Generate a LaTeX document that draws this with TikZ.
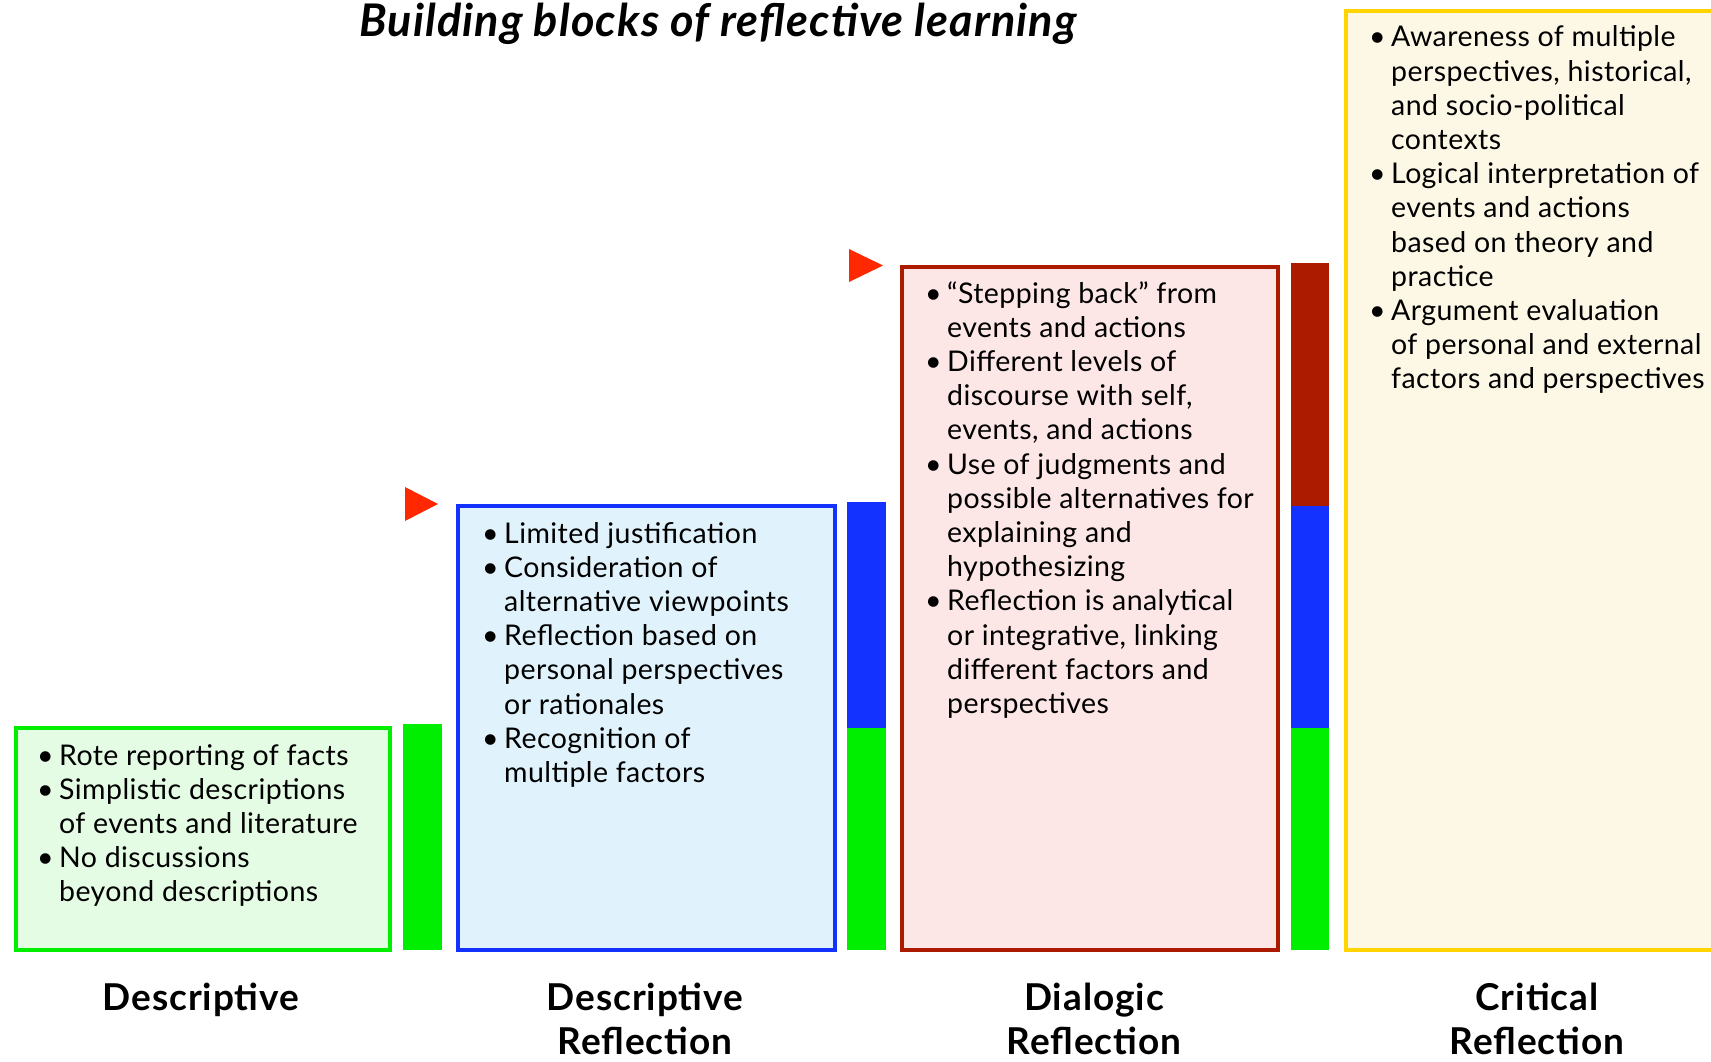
\documentclass[tikz,border=0pt]{standalone}
\usepackage{fontspec}
\setmainfont{Lato}
\newfontfamily\bodyfont{Lato}[LetterSpace=1.5]
\newfontfamily\labfont{Lato}[LetterSpace=2.5]
\newfontfamily\titlefont{Lato}[LetterSpace=2.5]
\definecolor{gborder}{RGB}{0,238,0}
\definecolor{gfill}{RGB}{228,251,228}
\definecolor{bborder}{RGB}{20,50,255}
\definecolor{bfill}{RGB}{224,243,252}
\definecolor{rborder}{RGB}{172,26,0}
\definecolor{rfill}{RGB}{253,230,230}
\definecolor{yborder}{RGB}{255,212,0}
\definecolor{yfill}{RGB}{253,248,230}
\definecolor{arrowred}{RGB}{255,40,0}
\newcommand\bul{\makebox[22pt][l]{\textbullet}}
\newcommand\blist[1]{\begin{tabular}[t]{@{}l@{}l@{}}#1\end{tabular}}
\newcommand\twol[2]{\begin{tabular}[t]{@{}c@{}}#1\\#2\end{tabular}}
\tikzset{
  stagebox/.style={draw=#1border, fill=#1fill, line width=4pt, rectangle, inner sep=0pt, anchor=north west},
  bodytext/.style={inner sep=0pt, anchor=base west, font=\bodyfont\fontsize{28.5}{34.2}\selectfont},
  stagelabel/.style={inner sep=0pt, anchor=base, font=\labfont\bfseries\fontsize{37}{44}\selectfont},
  flag/.style={fill=arrowred}
}
\begin{document}
\begin{tikzpicture}[x=1pt,y=-1pt]
\useasboundingbox (0,0) rectangle (1711,1062);
\fill[white] (0,0) rectangle (1711,1062);

% title
\node[inner sep=0pt, anchor=base, font=\titlefont\bfseries\itshape\fontsize{45}{50}\selectfont] (title) at (718,37) {Building blocks of reflective learning};

% boxes
\node[stagebox=g, minimum width=374pt, minimum height=222pt] (b1) at (14,726) {};
\node[stagebox=b, minimum width=377pt, minimum height=444pt] (b2) at (456,504) {};
\node[stagebox=r, minimum width=376pt, minimum height=683pt] (b3) at (900,265) {};
\node[stagebox=y, minimum width=380pt, minimum height=939pt] (b4) at (1344,9) {};

% bars
\fill[gborder] (403,724) rectangle (442,950);
\fill[bborder] (847,502) rectangle (886,728);
\fill[gborder] (847,728) rectangle (886,950);
\fill[rborder] (1291,263) rectangle (1329,506);
\fill[bborder] (1291,506) rectangle (1329,728);
\fill[gborder] (1291,728) rectangle (1329,950);

% flags
\fill[flag] (405,487) -- (438,504) -- (405,521) -- cycle;
\fill[flag] (849,249) -- (883,265.5) -- (849,282) -- cycle;

% texts
\node[bodytext] (t1) at (37,765) {\blist{
\bul & Rote reporting of facts\\
\bul & Simplistic descriptions\\
 & of events and literature\\
\bul & No discussions\\
 & beyond descriptions}};

\node[bodytext] (t2) at (482,543) {\blist{
\bul & Limited justification\\
\bul & Consideration of\\
 & alternative viewpoints\\
\bul & Reflection based on\\
 & personal perspectives\\
 & or rationales\\
\bul & Recognition of\\
 & multiple factors}};

\node[bodytext] (t3) at (925,303) {\blist{
\bul & “Stepping back” from\\
 & events and actions\\
\bul & Different levels of\\
 & discourse with self,\\
 & events, and actions\\
\bul & Use of judgments and\\
 & possible alternatives for\\
 & explaining and\\
 & hypothesizing\\
\bul & Reflection is analytical\\
 & or integrative, linking\\
 & different factors and\\
 & perspectives}};

\node[bodytext] (t4) at (1369,47) {\blist{
\bul & Awareness of multiple\\
 & perspectives, historical,\\
 & and socio-political\\
 & contexts\\
\bul & Logical interpretation of\\
 & events and actions\\
 & based on theory and\\
 & practice\\
\bul & Argument evaluation\\
 & of personal and external\\
 & factors and perspectives}};

% labels
\node[stagelabel] (l1) at (201,1010) {Descriptive};
\node[stagelabel] (l2) at (645,1010) {\twol{Descriptive}{Reflection}};
\node[stagelabel] (l3) at (1094,1010) {\twol{Dialogic}{Reflection}};
\node[stagelabel] (l4) at (1537,1010) {\twol{Critical}{Reflection}};
\end{tikzpicture}
\end{document}
